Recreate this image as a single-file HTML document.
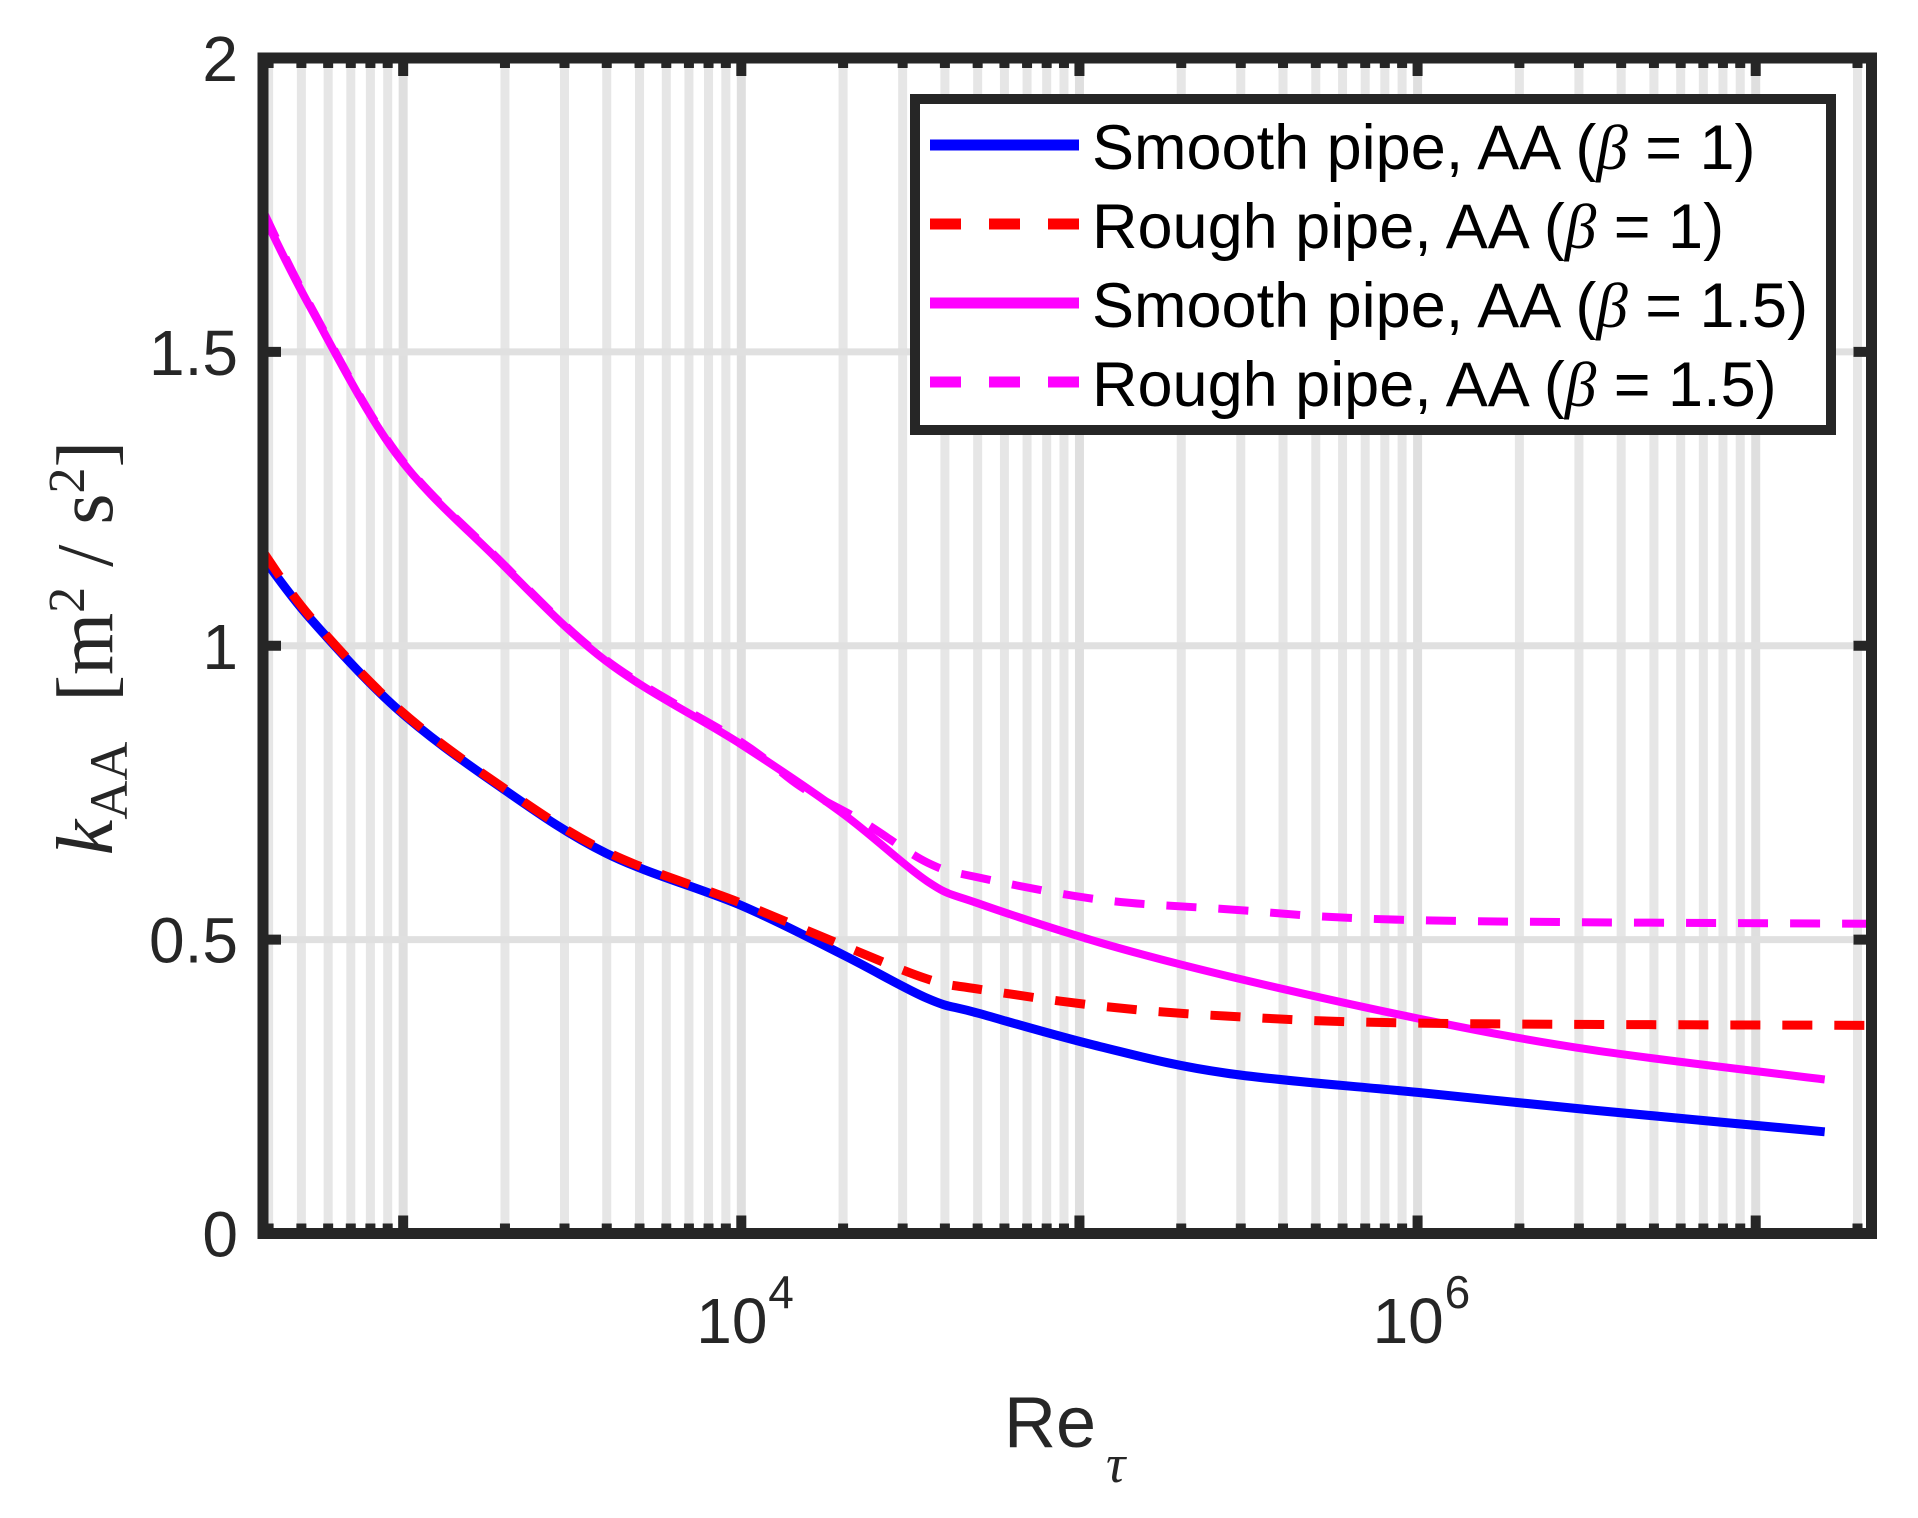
<!DOCTYPE html>
<html><head><meta charset="utf-8"><style>
html,body{margin:0;padding:0;background:#fff;}
svg{display:block;}
</style></head><body>
<svg id="chart" width="1918" height="1518" viewBox="0 0 1918 1518" xmlns="http://www.w3.org/2000/svg">
<g id="grid"></g>
<g id="series"></g>
<g id="axes"></g>
<g id="legend"></g>
<g transform="translate(112,648) rotate(-90)">
<text text-anchor="middle" font-family="Liberation Serif, serif" font-size="80" fill="#262626"><tspan font-style="italic">k</tspan><tspan font-size="54" dy="15">AA</tspan><tspan dy="-15" xml:space="preserve">  [m</tspan><tspan font-size="52" dy="-28">2</tspan><tspan dy="28" xml:space="preserve"> / s</tspan><tspan font-size="52" dy="-28">2</tspan><tspan dy="28">]</tspan></text>
</g>
<g>
<text x="1004" y="1447" font-family="Liberation Sans, sans-serif" font-size="72" fill="#262626">Re</text>
<text x="1106" y="1482" font-family="Liberation Serif, serif" font-style="italic" font-size="54" fill="#262626">τ</text>
</g>
</svg>
<script>
const xLogMin = Math.log10(385), xLogMax = Math.log10(2.2e7);
const yMin = 0, yMax = 2;
const L = 263, R = 1871.5, T = 58, B = 1233.5;
function X(v){ return L + (Math.log10(v) - xLogMin) / (xLogMax - xLogMin) * (R - L); }
function Y(v){ return B - (v - yMin) / (yMax - yMin) * (B - T); }

const yTicks = [0, 0.5, 1, 1.5, 2];
const yTickLabels = ["0", "0.5", "1", "1.5", "2"];
const xLabelVals = [1e4, 1e6];
const xLabelExp = ["4", "6"];

const reSmooth1 = [385, 530, 950, 1870, 3980, 1e4, 2e4, 3.55e4, 5e4, 1.15e5, 2.7e5, 1e6, 3.3e6, 1.6e7];
const kSmooth1 = [1.15, 1.047, 0.895, 0.766, 0.647, 0.558, 0.474, 0.40, 0.375, 0.318, 0.273, 0.24, 0.21, 0.173];
const reRough1 = [385, 530, 950, 1870, 3980, 1e4, 2e4, 3.55e4, 5e4, 1.15e5, 2.7e5, 1e6, 2.2e7];
const kRough1 = [1.16, 1.05, 0.897, 0.768, 0.65, 0.562, 0.49, 0.433, 0.416, 0.387, 0.37, 0.358, 0.354];
const reSmooth15 = [385, 530, 950, 1870, 3980, 1e4, 2e4, 3.55e4, 5e4, 1.15e5, 2.7e5, 1e6, 3.3e6, 1.6e7];
const kSmooth15 = [1.734, 1.577, 1.328, 1.151, 0.974, 0.832, 0.714, 0.599, 0.562, 0.495, 0.439, 0.366, 0.312, 0.262];
const reRough15 = [385, 530, 950, 1870, 3980, 1e4, 1.5e4, 2.3e4, 3.55e4, 5e4, 1.15e5, 2.7e5, 1e6, 2.2e7];
const kRough15 = [1.74, 1.58, 1.33, 1.153, 0.976, 0.836, 0.76, 0.70, 0.631, 0.606, 0.568, 0.552, 0.533, 0.527];

const NS = "http://www.w3.org/2000/svg";
function mk(tag, attrs, parent){ const e = document.createElementNS(NS, tag); for (const k in attrs) e.setAttribute(k, attrs[k]); parent.appendChild(e); return e; }
const grid = document.getElementById('grid'), axes = document.getElementById('axes'), series = document.getElementById('series'), legend = document.getElementById('legend');

for (let d = 2; d <= 7; d++) {
  for (let m = 1; m <= 9; m++) {
    const v = m * Math.pow(10, d);
    if (v < 385 || v > 2.2e7) continue;
    const x = X(v);
    const g = mk('line', {x1:x, x2:x, y1:T, y2:B, stroke: m===1 ? '#dfdfdf' : '#e6e6e6', 'stroke-width':9}, grid);
    
    
    const len = m === 1 ? 18 : 10;
    const t1 = mk('line', {x1:x, x2:x, y1:B, y2:B-len, stroke:'#262626', 'stroke-width':10}, axes);
    
    
    const t2 = mk('line', {x1:x, x2:x, y1:T, y2:T+len, stroke:'#262626', 'stroke-width':10}, axes);
    
    
  }
}
yTicks.forEach((v, i) => {
  const y = Y(v);
  const g = mk('line', {x1:L, x2:R, y1:y, y2:y, stroke:'#e0e0e0', 'stroke-width':7}, grid);
  
  
  const t1 = mk('line', {x1:L, x2:L+18, y1:y, y2:y, stroke:'#262626', 'stroke-width':10}, axes);
  
  
  const t2 = mk('line', {x1:R, x2:R-18, y1:y, y2:y, stroke:'#262626', 'stroke-width':10}, axes);
  
  
  const lb = mk('text', {x:238, y:y+23, 'text-anchor':'end', 'font-family':'Liberation Sans, sans-serif', 'font-size':64, fill:'#262626'}, axes);
  
  
  lb.textContent = yTickLabels[i];
});
xLabelVals.forEach((v, i) => {
  const x = X(v);
  const t = mk('text', {x:x-45, y:1343, 'font-family':'Liberation Sans, sans-serif', 'font-size':64, fill:'#262626'}, axes);
  
  
  t.textContent = '10';
  const s = mk('text', {x:x+27, y:1308, 'font-family':'Liberation Sans, sans-serif', 'font-size':46, fill:'#262626'}, axes);
  
  
  s.textContent = xLabelExp[i];
});
const frame = mk('rect', {x:L, y:T, width:R-L, height:B-T, fill:'none', stroke:'#262626', 'stroke-width':11}, axes);



// smooth path through data points (Catmull-Rom in screen space)
function path(xs, ys){
  const p = xs.map((x,i)=>[X(x), Y(ys[i])]);
  let d = 'M' + p[0][0].toFixed(1) + ',' + p[0][1].toFixed(1);
  for (let i = 0; i < p.length - 1; i++) {
    const p0 = p[i-1] || p[i], p1 = p[i], p2 = p[i+1], p3 = p[i+2] || p2;
    const c1 = [p1[0] + (p2[0]-p0[0])/6, p1[1] + (p2[1]-p0[1])/6];
    const c2 = [p2[0] - (p3[0]-p1[0])/6, p2[1] - (p3[1]-p1[1])/6];
    d += ' C' + c1[0].toFixed(1) + ',' + c1[1].toFixed(1) + ' ' + c2[0].toFixed(1) + ',' + c2[1].toFixed(1) + ' ' + p2[0].toFixed(1) + ',' + p2[1].toFixed(1);
  }
  return d;
}
const defs = [
  {xs:reSmooth15, ys:kSmooth15, c:'#ff00ff', d:null, w:8, n:'series-smooth-beta-1-5'},
  {xs:reRough15, ys:kRough15, c:'#ff00ff', d:'30 22', w:8, n:'series-rough-beta-1-5'},
  {xs:reSmooth1, ys:kSmooth1, c:'#0000ff', d:null, w:9, n:'series-smooth-beta-1'},
  {xs:reRough1, ys:kRough1, c:'#ff0000', d:'30 22', w:9, n:'series-rough-beta-1'}
];
const clip = mk('clipPath', {id:'pc'}, document.getElementById('chart'));
mk('rect', {x:L, y:T, width:R-L, height:B-T}, clip);
series.setAttribute('clip-path', 'url(#pc)');
defs.forEach(s => {
  const a = {d:path(s.xs, s.ys), fill:'none', stroke:s.c, 'stroke-width':s.w, 'stroke-linejoin':'round'};
  if (s.d) a['stroke-dasharray'] = s.d;
  const p = mk('path', a, series);
  
  
});

const lb = mk('rect', {x:915, y:99, width:916, height:331, fill:'#fff', stroke:'#262626', 'stroke-width':10}, legend);


const entries = [
  {c:'#0000ff', d:null, t:'Smooth pipe, AA (', v:'1)'},
  {c:'#ff0000', d:'31 28', t:'Rough pipe, AA (', v:'1)'},
  {c:'#ff00ff', d:null, t:'Smooth pipe, AA (', v:'1.5)'},
  {c:'#ff00ff', d:'31 28', t:'Rough pipe, AA (', v:'1.5)'}
];
entries.forEach((e, i) => {
  const y = 145 + i * 79;
  const a = {x1:930, x2:1079, y1:y, y2:y, stroke:e.c, 'stroke-width':11};
  if (e.d) a['stroke-dasharray'] = e.d;
  const ln = mk('line', a, legend);
  
  
  const t = mk('text', {x:1092, y:y+24, 'font-family':'Liberation Sans, sans-serif', 'font-size':63, fill:'#000'}, legend);
  
  
  t.innerHTML = e.t + '<tspan font-family="Liberation Serif, serif" font-style="italic">β</tspan> = ' + e.v;
});
</script>
</body></html>
